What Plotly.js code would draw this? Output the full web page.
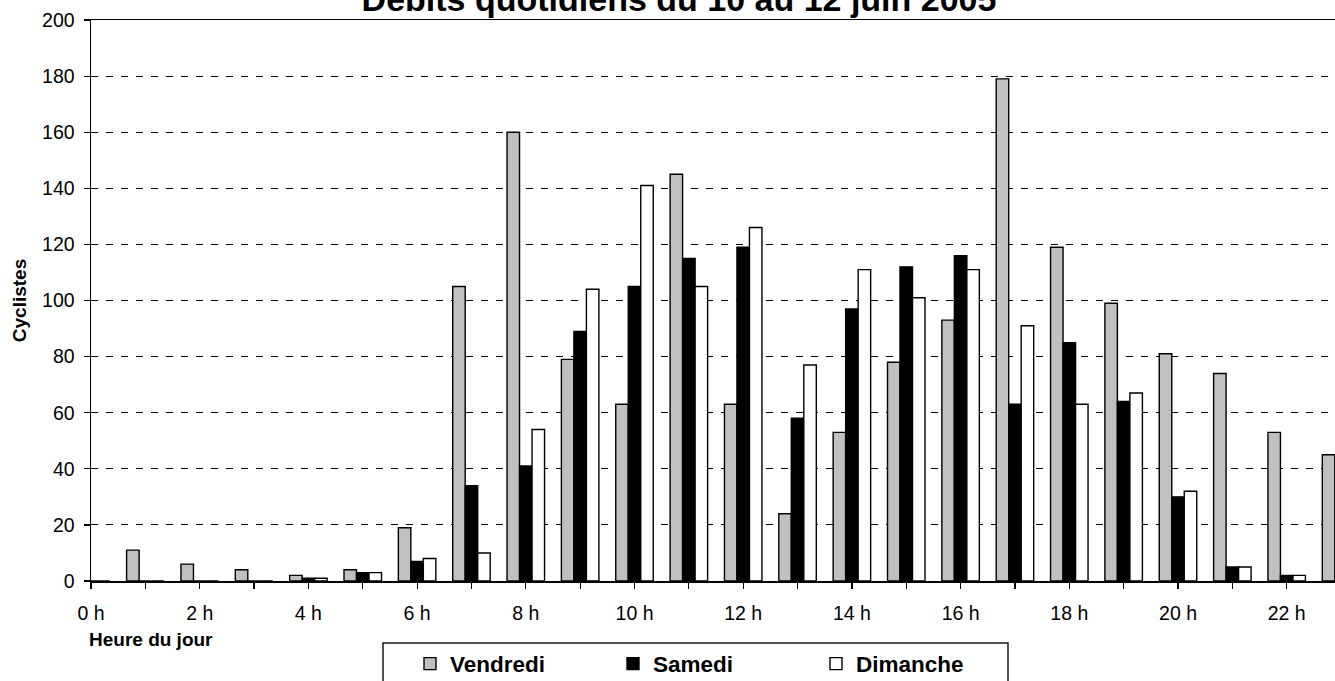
<!DOCTYPE html>
<html>
<head>
<meta charset="utf-8">
<script src="https://cdn.plot.ly/plotly-3.0.1.min.js"></script>
<style>
  html, body { margin: 0; padding: 0; background: #fff; overflow: hidden; }
  #chart { width: 1335px; height: 681px; }
</style>
</head>
<body>
<div id="chart"></div>
<script>
// ---- Data ----
const hours = [0,1,2,3,4,5,6,7,8,9,10,11,12,13,14,15,16,17,18,19,20,21,22,23];
const tickLabels = ["0 h","","2 h","","4 h","","6 h","","8 h","","10 h","","12 h","","14 h","","16 h","","18 h","","20 h","","22 h",""];
const vendredi = [null, 11, 6, 4, 2, 4, 19, 105, 160, 79, 63, 145, 63, 24, 53, 78, 93, 179, 119, 99, 81, 74, 53, 45];
const samedi   = [0, 0, 0, 0, 1, 3, 7, 34, 41, 89, 105, 115, 119, 58, 97, 112, 116, 63, 85, 64, 30, 5, 2, null];
const dimanche = [0, 0, 0, 0, 1, 3, 8, 10, 54, 104, 141, 105, 126, 77, 111, 101, 111, 91, 63, 67, 32, 5, 2, null];
const seriesNames = ["Vendredi", "Samedi", "Dimanche"];
const yTicks = [0, 20, 40, 60, 80, 100, 120, 140, 160, 180, 200];

const FONT = '"Liberation Sans", Arial, Helvetica, sans-serif';

function barTrace(name, values, fill) {
  return {
    type: 'bar',
    name: name,
    x: hours,
    y: values,
    marker: { color: fill, line: { color: '#000000', width: 1.4 } },
    hoverinfo: 'x+y+name'
  };
}

const data = [
  barTrace(seriesNames[0], vendredi, '#C0C0C0'),
  barTrace(seriesNames[1], samedi, '#000000'),
  barTrace(seriesNames[2], dimanche, '#FFFFFF')
];

const W = 1335, H = 681;
const mL = 91, mR = 0, mT = 20, mB = 100;
const plotW = W - mL - mR, plotH = H - mT - mB;
const px2paperX = px => (px - mL) / plotW;
const px2paperY = py => (H - mB - py) / plotH;

const layout = {
  width: W,
  height: H,
  margin: { l: mL, r: mR, t: mT, b: mB, pad: 0, autoexpand: false },
  paper_bgcolor: '#FFFFFF',
  plot_bgcolor: '#FFFFFF',
  font: { family: FONT, color: '#000000', size: 19.5 },
  barmode: 'group',
  bargap: 0.31,
  bargroupgap: 0,
  title: {
    text: 'Débits quotidiens du 10 au 12 juin 2005',
    font: { family: FONT, size: 34, weight: 'bold', color: '#000000' },
    x: 679 / W,
    xref: 'container',
    xanchor: 'center',
    y: 1 - 11 / H,
    yref: 'container',
    yanchor: 'bottom'
  },
  xaxis: {
    range: [0, plotW / 54.35],
    tickmode: 'array',
    tickvals: hours,
    ticktext: tickLabels,
    ticks: 'outside',
    ticklen: 6,
    tickwidth: 1.2,
    tickcolor: '#000000',
    ticklabelstandoff: 8,
    tickfont: { family: FONT, size: 19.5, color: '#000000' },
    showline: true,
    linecolor: '#000000',
    linewidth: 1.5,
    mirror: true,
    showgrid: false,
    zeroline: false,
    automargin: false,
    fixedrange: true
  },
  yaxis: {
    range: [0, 200],
    tickmode: 'array',
    tickvals: yTicks,
    ticks: 'outside',
    ticklen: 6,
    tickwidth: 1.2,
    tickcolor: '#000000',
    ticklabelstandoff: 5,
    tickfont: { family: FONT, size: 19.5, color: '#000000' },
    showline: true,
    linecolor: '#000000',
    linewidth: 1.5,
    mirror: false,
    showgrid: true,
    gridcolor: '#000000',
    gridwidth: 1,
    griddash: '7px,8px',
    zeroline: false,
    automargin: false,
    title: {
      text: 'Cyclistes',
      font: { family: FONT, size: 19, weight: 'bold', color: '#000000' },
      standoff: 10
    },
    fixedrange: true
  },
  legend: {
    orientation: 'h',
    x: px2paperX(410),
    xanchor: 'left',
    y: px2paperY(664),
    yanchor: 'middle',
    entrywidth: 158,
    entrywidthmode: 'pixels',
    font: { family: FONT, size: 22.5, weight: 'bold', color: '#000000' },
    bgcolor: 'rgba(0,0,0,0)',
    borderwidth: 0,
    traceorder: 'normal'
  },
  annotations: [
    {
      text: 'Heure du jour',
      xref: 'paper', yref: 'paper',
      x: px2paperX(87), xanchor: 'left',
      y: px2paperY(639), yanchor: 'middle',
      showarrow: false,
      font: { family: FONT, size: 19, weight: 'bold', color: '#000000' }
    }
  ],
  shapes: [
    {
      type: 'rect',
      xref: 'paper', yref: 'paper',
      x0: px2paperX(383), x1: px2paperX(1008),
      y0: px2paperY(643), y1: px2paperY(720),
      line: { color: '#1a1a1a', width: 1.5 },
      fillcolor: 'rgba(0,0,0,0)',
      layer: 'below'
    }
  ],
  showlegend: true
};

Plotly.newPlot('chart', data, layout, { displayModeBar: false, staticPlot: true });
</script>
</body>
</html>
